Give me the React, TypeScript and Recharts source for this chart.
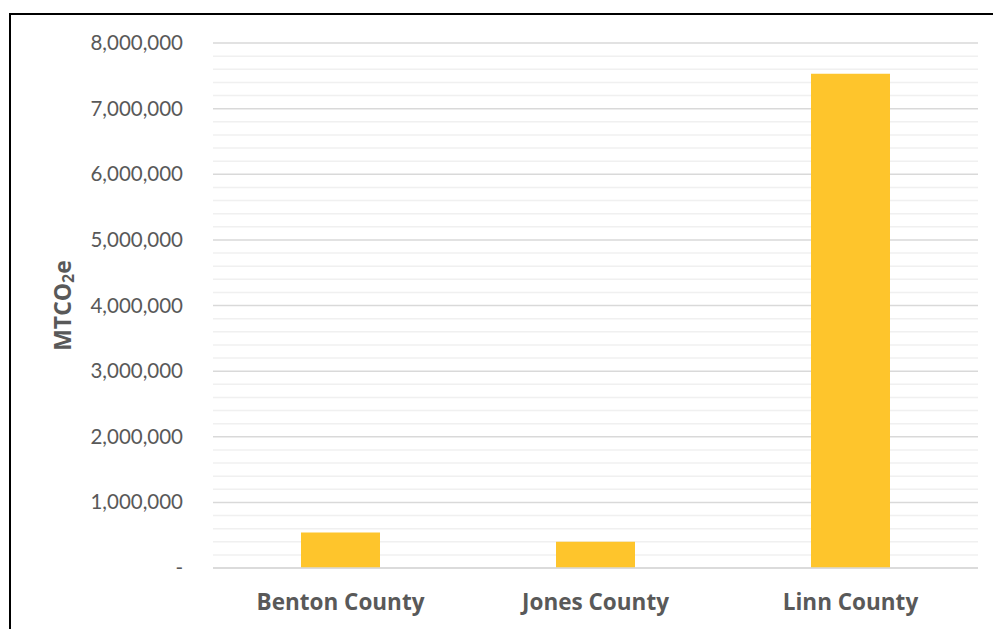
import { BarChart, Bar, XAxis, YAxis, CartesianGrid } from "recharts";

// emissions by county (MTCO2e)
const counties = ["Benton County", "Jones County", "Linn County"];
const emissions = [540000, 400000, 7530000];

// every 200k step gets a grid line, every millionth one a label
const yTicks = [
  0, 200000, 400000, 600000, 800000, 1000000, 1200000, 1400000, 1600000, 1800000, 2000000,
  2200000, 2400000, 2600000, 2800000, 3000000, 3200000, 3400000, 3600000, 3800000, 4000000,
  4200000, 4400000, 4600000, 4800000, 5000000, 5200000, 5400000, 5600000, 5800000, 6000000,
  6200000, 6400000, 6600000, 6800000, 7000000, 7200000, 7400000, 7600000, 7800000, 8000000,
];

const data = counties.map((c, i) => ({ county: c, value: emissions[i] }));

const FONT = "Lato, 'Noto Sans', sans-serif";
const BOLD_FONT = "'Open Sans', 'Noto Sans', sans-serif";
const GREY = "#595959";

const isMajor = (v: number) => v % 1000000 === 0;
const fmt = (v: number) => (v === 0 ? "-" : v.toLocaleString("en-US"));

const YTick = ({ x, y, payload }: any) => {
  if (!isMajor(payload.value)) return null;
  return (
    <text x={x} y={y} dy={7} textAnchor="end" fill={GREY} fontFamily={FONT} fontSize={20.5}>
      {fmt(payload.value)}
    </text>
  );
};

const GridLine = (p: any) => (
  <line
    x1={p.x1}
    y1={p.y1}
    x2={p.x2}
    y2={p.y2}
    stroke={p.index % 5 === 0 ? "#d9d9d9" : "#f0f0f0"}
    strokeWidth={1.5}
  />
);

const YLabel = ({ viewBox }: any) => {
  const cx = 62;
  const cy = viewBox.y + viewBox.height / 2;
  return (
    <text
      x={cx}
      y={cy}
      transform={`rotate(-90, ${cx}, ${cy})`}
      textAnchor="middle"
      dominantBaseline="central"
      fill={GREY}
      fontFamily={BOLD_FONT}
      fontWeight={700}
      fontSize={23}
    >
      MTCO
      <tspan fontSize={16} dy={6}>2</tspan>
      <tspan dy={-6}>e</tspan>
    </text>
  );
};

export default function App() {
  return (
    <div style={{ position: "absolute", left: 0, top: 0, width: 993, height: 629, background: "#fff" }}>
      <div
        style={{
          position: "absolute",
          left: 9,
          top: 13,
          width: 984,
          height: 616,
          borderLeft: "2px solid #000",
          borderTop: "2px solid #000",
          boxSizing: "border-box",
        }}
      />
      <div style={{ position: "absolute", left: 0, top: 0 }}>
        <BarChart
          width={993}
          height={629}
          data={data}
          margin={{ top: 43, right: 15, bottom: 0, left: 0 }}
          barCategoryGap={88}
        >
          <CartesianGrid vertical={false} horizontal={(p: any) => <GridLine {...p} />} />
          <XAxis
            dataKey="county"
            height={61}
            axisLine={{ stroke: "#d9d9d9", strokeWidth: 1.5 }}
            tickLine={false}
            tickSize={0}
            tickMargin={26}
            tick={{ fill: GREY, fontFamily: BOLD_FONT, fontWeight: 700, fontSize: 22.5 }}
          />
          <YAxis
            width={213}
            domain={[0, 8000000]}
            ticks={yTicks}
            interval={0}
            axisLine={false}
            tickLine={false}
            tickSize={0}
            tickMargin={30}
            tick={<YTick />}
            label={<YLabel />}
          />
          <Bar dataKey="value" fill="#FEC52C" isAnimationActive={false} />
        </BarChart>
      </div>
    </div>
  );
}
